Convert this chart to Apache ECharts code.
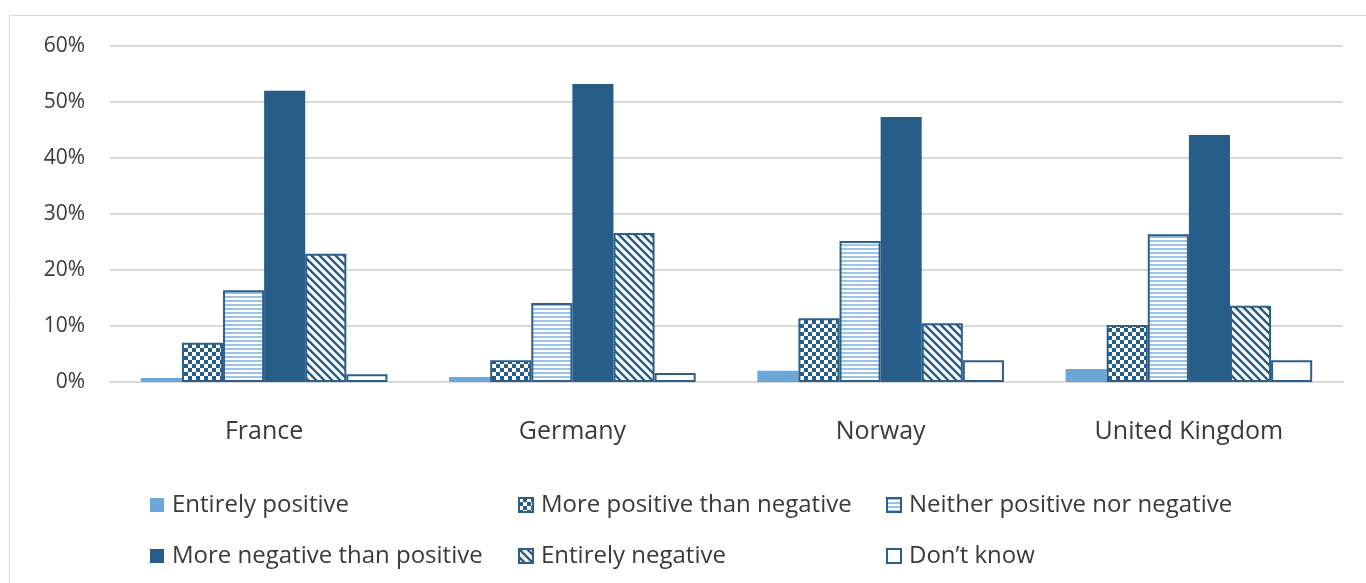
<!DOCTYPE html>
<html><head><meta charset="utf-8">
<script src="https://cdn.jsdelivr.net/npm/echarts@6/dist/echarts.min.js"></script>
<style>html,body{margin:0;padding:0;background:#fff}#c{width:1366px;height:583px}</style>
</head><body><div id="c"></div>
<script>
var categories = ['France', 'Germany', 'Norway', 'United Kingdom'];
var seriesNames = ['Entirely positive', 'More positive than negative', 'Neither positive nor negative', 'More negative than positive', 'Entirely negative', 'Don\u2019t know'];
var entirelyPositive = [0.7, 0.9, 2.0, 2.3];
var morePositive = [7.0, 3.9, 11.4, 10.2];
var neither = [16.4, 14.1, 25.2, 26.4];
var moreNegative = [52.0, 53.2, 47.3, 44.1];
var entirelyNegative = [22.9, 26.6, 10.5, 13.6];
var dontKnow = [1.4, 1.6, 3.9, 3.9];
var yTicks = [0, 10, 20, 30, 40, 50, 60];

var DARK = '#265d89', LIGHT = '#6ba7d8', EDGE = '#2c5f8c';
var FONT = 'Open Sans', TXT = '#3a3a3a';
function mk(w, h, draw) { var c = document.createElement('canvas'); c.width = w; c.height = h; var g = c.getContext('2d'); draw(g); return c; }
var checker = mk(8, 8, function (g) { g.fillStyle = DARK; g.fillRect(0, 0, 8, 8); g.fillStyle = '#fff'; g.fillRect(0, 0, 4, 4); g.fillRect(4, 4, 4, 4); });
var stripes = mk(4, 4, function (g) { g.fillStyle = '#fff'; g.fillRect(0, 0, 4, 4); g.fillStyle = '#9cc3e6'; g.fillRect(0, 0, 4, 2); });
var diag = mk(8, 8, function (g) {
  g.fillStyle = '#fff'; g.fillRect(0, 0, 8, 8); g.strokeStyle = DARK; g.lineWidth = 2.4;
  g.beginPath(); g.moveTo(-2, -2); g.lineTo(10, 10); g.moveTo(-2, 6); g.lineTo(2, 10); g.moveTo(6, -2); g.lineTo(10, 2); g.stroke();
});

var datas = [entirelyPositive, morePositive, neither, moreNegative, entirelyNegative, dontKnow];
var styles = [
  { color: LIGHT },
  { color: { image: checker, repeat: 'repeat' }, borderColor: EDGE, borderWidth: 2 },
  { color: { image: stripes, repeat: 'repeat' }, borderColor: EDGE, borderWidth: 2 },
  { color: DARK },
  { color: { image: diag, repeat: 'repeat' }, borderColor: EDGE, borderWidth: 2 },
  { color: '#fff', borderColor: EDGE, borderWidth: 2 }
];
var series = seriesNames.map(function (n, i) {
  return { name: n, type: 'bar', data: datas[i], itemStyle: styles[i], barGap: '0%', barCategoryGap: '20%', emphasis: { disabled: true } };
});
var legPos = [[150, 493], [518, 493], [886, 493], [150, 544], [518, 544], [886, 544]];
var legends = seriesNames.map(function (n, i) {
  return { data: [n], left: legPos[i][0], top: legPos[i][1], icon: 'rect', itemWidth: 14, itemHeight: 14, itemGap: 6, padding: 0,
    textStyle: { fontFamily: FONT, fontSize: 24, color: TXT, padding: [0, 0, 0, 3] }, selectedMode: false };
});
var chart = echarts.init(document.getElementById('c'));
chart.setOption({
  animation: false,
  graphic: [{ type: 'rect', shape: { x: 9.5, y: 15.5, width: 1420, height: 620 }, style: { fill: 'none', stroke: '#d9d9d9', lineWidth: 1 }, z: -10 }],
  legend: legends,
  grid: { left: 110, right: 23, top: 46, bottom: 201 },
  xAxis: { type: 'category', data: categories, axisTick: { show: false }, axisLine: { lineStyle: { color: '#d9d9d9', width: 2 } },
    axisLabel: { fontFamily: FONT, fontSize: 25, color: TXT, margin: 37 } },
  yAxis: { type: 'value', min: yTicks[0], max: yTicks[yTicks.length - 1], interval: 10,
    axisLabel: { formatter: '{value}%', fontFamily: FONT, fontSize: 21, color: TXT, margin: 25 },
    splitLine: { lineStyle: { color: '#d9d9d9', width: 2 } }, axisLine: { show: false }, axisTick: { show: false } },
  series: series
});
</script></body></html>
